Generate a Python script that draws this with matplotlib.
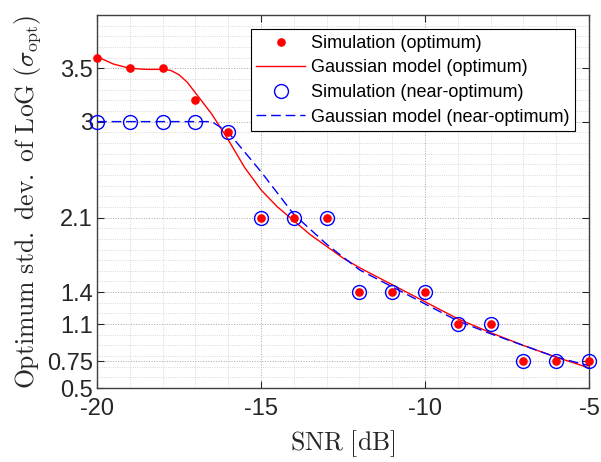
import numpy as np
import matplotlib
matplotlib.use("Agg")
import matplotlib.pyplot as plt
from matplotlib.ticker import MultipleLocator, FixedLocator

plt.rcParams["font.family"] = ["Liberation Sans", "DejaVu Sans"]
plt.rcParams["mathtext.fontset"] = "cm"
plt.rcParams["axes.unicode_minus"] = False

# simulated optimum / near-optimum sigma per SNR
snr = [-20, -19, -18, -17, -16, -15, -14, -13, -12, -11, -10, -9, -8, -7, -6, -5]
sim_opt = [3.6, 3.5, 3.5, 3.2, 2.9, 2.1, 2.1, 2.1, 1.4, 1.4, 1.4, 1.1, 1.1, 0.75, 0.75, 0.75]
sim_near = [3.0, 3.0, 3.0, 3.0, 2.9, 2.1, 2.1, 2.1, 1.4, 1.4, 1.4, 1.1, 1.1, 0.75, 0.75, 0.75]

# Gaussian model curves
snr_model_opt = [-20, -19.5, -19, -18.5, -18, -17.75, -17.5, -17.25, -17, -16.5, -16, -15.5,
                 -15, -14.5, -14, -13.5, -13, -12.5, -12, -11, -10, -9, -8, -7, -6, -5]
model_opt = [3.61, 3.54, 3.50, 3.49, 3.49, 3.48, 3.44, 3.37, 3.27, 3.07, 2.83, 2.57,
             2.36, 2.20, 2.07, 1.94, 1.83, 1.72, 1.63, 1.47, 1.31, 1.15, 1.02, 0.90, 0.79, 0.69]
snr_model_near = [-20, -19, -18, -17, -16.5, -16, -15, -14, -13, -12, -11, -10, -9, -8, -7, -6, -5]
model_near = [3.0, 3.0, 3.0, 3.0, 3.0, 2.9, 2.53, 2.13, 1.85, 1.61, 1.45, 1.29, 1.13, 1.01, 0.90, 0.79, 0.71]

yticks = [0.5, 0.75, 1.1, 1.4, 2.1, 3, 3.5]
ytick_labels = ["0.5", "0.75", "1.1", "1.4", "2.1", "3", "3.5"]

dark = "0.15"

fig = plt.figure(figsize=(6.01, 4.62), dpi=100)
ax = fig.add_axes([0.1614, 0.160, 0.8186, 0.8075])

ax.plot(snr, sim_opt, "o", color="red", ms=5.2, mec="red", zorder=4, clip_on=False,
        label="Simulation (optimum)")
ax.plot(snr_model_opt, model_opt, "-", color="red", lw=1.0, zorder=3,
        label="Gaussian model (optimum)")
ax.plot(snr, sim_near, "o", mfc="none", mec="blue", mew=1.0, ms=10, zorder=4,
        clip_on=False, label="Simulation (near-optimum)")
ax.plot(snr_model_near, model_near, "--", color="blue", lw=1.0, dashes=(7, 3.5),
        zorder=3, label="Gaussian model (near-optimum)")

ax.set_xlim(-20, -5)
ax.set_ylim(0.5, 4.0)
ax.xaxis.set_major_locator(MultipleLocator(5))
ax.xaxis.set_minor_locator(MultipleLocator(1))
ax.yaxis.set_major_locator(FixedLocator(yticks))
ax.set_yticklabels(ytick_labels)
ax.yaxis.set_minor_locator(FixedLocator(np.arange(0.5, 4.01, 0.1)))

ax.grid(True, which="major", linestyle=":", color="0.65", lw=0.7)
ax.grid(True, which="minor", linestyle=":", color="0.8", lw=0.6)
ax.set_axisbelow(True)

ax.tick_params(which="major", direction="in", length=5, width=0.8, top=True,
               right=True, colors=dark, labelsize=17, labelcolor=dark)
ax.tick_params(axis="y", which="major", pad=3)
ax.tick_params(axis="x", which="major", pad=7)
ax.tick_params(which="minor", length=0)
for sp in ax.spines.values():
    sp.set_color("0.25")
    sp.set_linewidth(1.0)

ax.set_xlabel(r"$\mathrm{SNR\ [dB]}$", fontsize=18.5, color=dark, labelpad=6)
ax.set_ylabel(r"$\mathrm{Optimum\ std.\ dev.\ of\ LoG}\ (\sigma_{\mathrm{opt}})$",
              fontsize=18.5, color=dark, labelpad=3)

leg = ax.legend(loc="upper right", fontsize=13, frameon=True, fancybox=False,
                framealpha=1, edgecolor="black", borderpad=0.3, labelspacing=0.42,
                handlelength=2.7, handletextpad=0.3, borderaxespad=0.8)
leg.get_frame().set_linewidth(0.8)

fig.savefig("out.png", dpi=100)
